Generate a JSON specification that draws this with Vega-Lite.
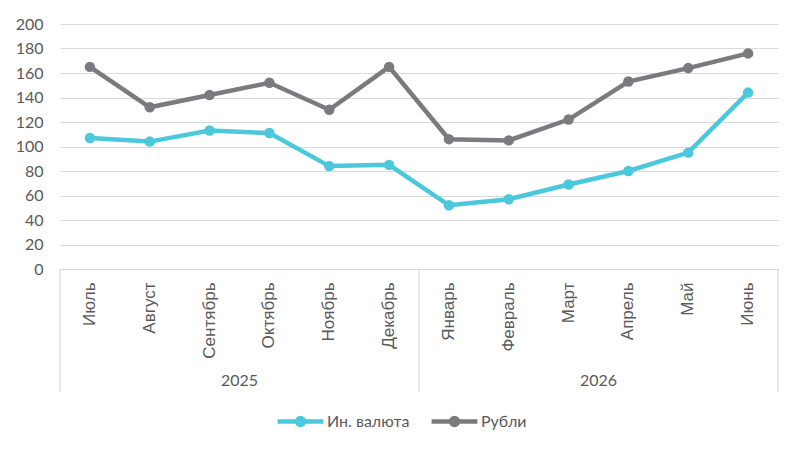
{
  "$schema": "https://vega.github.io/schema/vega-lite/v6.json",
  "width": 718,
  "height": 245,
  "autosize": "none",
  "padding": {"left": 60, "top": 24, "right": 24, "bottom": 183},
  "background": "white",
  "config": {
    "view": {"stroke": null},
    "font": "Lato",
    "axisY": {
      "labelOverlap": false,
      "domain": false,
      "ticks": false,
      "labelFont": "Lato",
      "labelFontSize": 16,
      "labelColor": "#595959",
      "labelPadding": 17,
      "gridColor": "#d9d9d9",
      "gridWidth": 1.2
    }
  },
  "data": {
    "values": [
      {"month": "Июль", "year": "2025", "series": "Ин. валюта", "value": 107},
      {"month": "Август", "year": "2025", "series": "Ин. валюта", "value": 104},
      {"month": "Сентябрь", "year": "2025", "series": "Ин. валюта", "value": 113},
      {"month": "Октябрь", "year": "2025", "series": "Ин. валюта", "value": 111},
      {"month": "Ноябрь", "year": "2025", "series": "Ин. валюта", "value": 84},
      {"month": "Декабрь", "year": "2025", "series": "Ин. валюта", "value": 85},
      {"month": "Январь", "year": "2026", "series": "Ин. валюта", "value": 52},
      {"month": "Февраль", "year": "2026", "series": "Ин. валюта", "value": 57},
      {"month": "Март", "year": "2026", "series": "Ин. валюта", "value": 69},
      {"month": "Апрель", "year": "2026", "series": "Ин. валюта", "value": 80},
      {"month": "Май", "year": "2026", "series": "Ин. валюта", "value": 95},
      {"month": "Июнь", "year": "2026", "series": "Ин. валюта", "value": 144},
      {"month": "Июль", "year": "2025", "series": "Рубли", "value": 165},
      {"month": "Август", "year": "2025", "series": "Рубли", "value": 132},
      {"month": "Сентябрь", "year": "2025", "series": "Рубли", "value": 142},
      {"month": "Октябрь", "year": "2025", "series": "Рубли", "value": 152},
      {"month": "Ноябрь", "year": "2025", "series": "Рубли", "value": 130},
      {"month": "Декабрь", "year": "2025", "series": "Рубли", "value": 165},
      {"month": "Январь", "year": "2026", "series": "Рубли", "value": 106},
      {"month": "Февраль", "year": "2026", "series": "Рубли", "value": 105},
      {"month": "Март", "year": "2026", "series": "Рубли", "value": 122},
      {"month": "Апрель", "year": "2026", "series": "Рубли", "value": 153},
      {"month": "Май", "year": "2026", "series": "Рубли", "value": 164},
      {"month": "Июнь", "year": "2026", "series": "Рубли", "value": 176}
    ]
  },
  "encoding": {
    "x": {
      "field": "month",
      "type": "nominal",
      "scale": {
        "type": "band",
        "domain": ["Июль", "Август", "Сентябрь", "Октябрь", "Ноябрь", "Декабрь", "Январь", "Февраль", "Март", "Апрель", "Май", "Июнь"],
        "paddingInner": 0,
        "paddingOuter": 0
      },
      "axis": {
        "title": null,
        "labelAngle": -90,
        "ticks": false,
        "grid": false,
        "domainColor": "#d9d9d9",
        "domainWidth": 1.2,
        "labelFont": "Liberation Sans",
        "labelFontSize": 17,
        "labelColor": "#595959",
        "labelPadding": 13
      }
    },
    "y": {
      "field": "value",
      "type": "quantitative",
      "title": null,
      "scale": {"domain": [0, 200]},
      "axis": {"values": [0, 20, 40, 60, 80, 100, 120, 140, 160, 180, 200]}
    }
  },
  "layer": [
    {
      "mark": {"type": "line", "strokeWidth": 4.5},
      "encoding": {
        "color": {
          "field": "series",
          "type": "nominal",
          "scale": {"domain": ["Ин. валюта", "Рубли"], "range": ["#4bc8db", "#7b7b7f"]},
          "legend": {
            "title": null,
            "orient": "none",
            "direction": "horizontal",
            "legendX": 215,
            "legendY": 372,
            "padding": 0,
            "symbolType": "M-1,0L1,0M-0.15,0A0.15,0.15,0,1,0,0.15,0A0.15,0.15,0,1,0,-0.15,0Z",
            "symbolSize": 2100,
            "symbolStrokeWidth": 4.5,
            "labelOffset": 1,
            "columnPadding": 12,
            "labelFont": "Lato",
            "labelFontSize": 16,
            "labelColor": "#595959"
          }
        }
      }
    },
    {
      "mark": {"type": "point", "filled": true, "size": 110, "opacity": 1},
      "encoding": {
        "color": {"field": "series", "type": "nominal"}
      }
    },
    {
      "transform": [
        {"filter": "datum.series == 'Рубли' && (datum.month == 'Июль' || datum.month == 'Январь')"}
      ],
      "mark": {"type": "rule", "color": "#d9d9d9", "strokeWidth": 1.2},
      "encoding": {
        "x": {"field": "month", "type": "nominal", "bandPosition": 0},
        "y": {"datum": 0, "type": "quantitative", "title": null, "axis": {"values": [0, 20, 40, 60, 80, 100, 120, 140, 160, 180, 200]}},
        "y2": {"datum": -100.5}
      }
    },
    {
      "transform": [
        {"filter": "datum.series == 'Рубли' && datum.month == 'Июнь'"}
      ],
      "mark": {"type": "rule", "color": "#d9d9d9", "strokeWidth": 1.2},
      "encoding": {
        "x": {"field": "month", "type": "nominal", "bandPosition": 1},
        "y": {"datum": 0, "type": "quantitative", "title": null, "axis": {"values": [0, 20, 40, 60, 80, 100, 120, 140, 160, 180, 200]}},
        "y2": {"datum": -100.5}
      }
    },
    {
      "transform": [
        {"filter": "datum.series == 'Рубли' && (datum.month == 'Октябрь' || datum.month == 'Апрель')"}
      ],
      "mark": {"type": "text", "font": "Lato", "fontSize": 16, "color": "#595959", "baseline": "middle"},
      "encoding": {
        "x": {"field": "month", "type": "nominal", "bandPosition": 0},
        "y": {"datum": -91.5, "type": "quantitative", "title": null, "axis": {"values": [0, 20, 40, 60, 80, 100, 120, 140, 160, 180, 200]}},
        "text": {"field": "year"}
      }
    }
  ]
}
